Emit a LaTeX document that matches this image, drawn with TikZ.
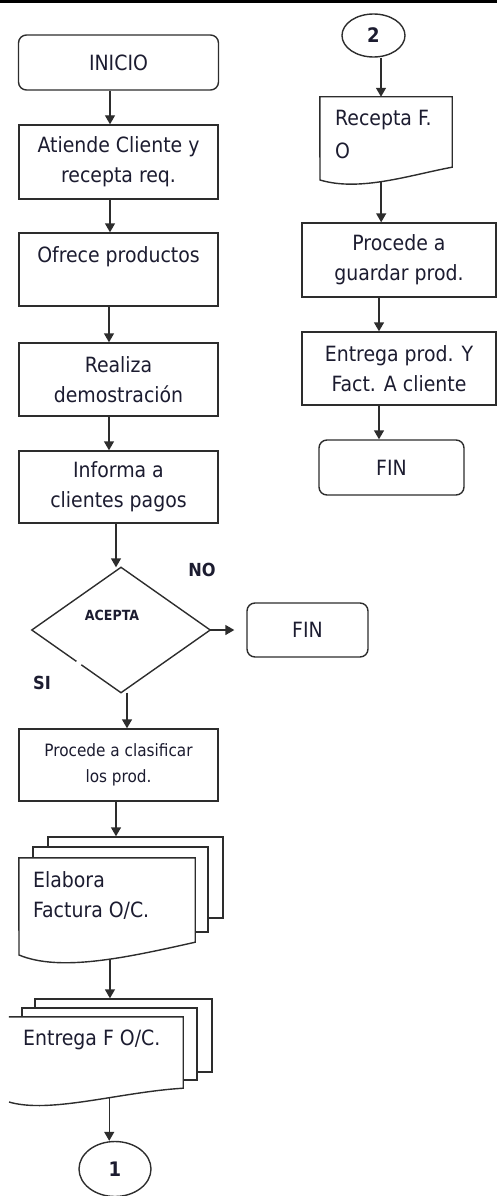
\documentclass[tikz,border=0pt]{standalone}
\usepackage{fontspec}
\setmainfont{DejaVu Sans Condensed}
\usetikzlibrary{arrows.meta,shapes.geometric,calc}

\definecolor{ink}{RGB}{28,28,48}
\definecolor{edge}{RGB}{45,45,45}

\tikzset{
  base/.style={inner sep=0pt, text=ink, font=\fontsize{21}{30}\selectfont},
  procbox/.style={base, draw=edge, line width=1.4pt, fill=white, align=center},
  termbox/.style={procbox, rounded corners=8pt},
  hidden/.style={base, draw=none},
  sheet/.style={draw=edge, line width=1.4pt, fill=white, inner sep=0pt},
  conn/.style={base, ellipse, draw=edge, line width=1.4pt, font=\fontsize{20}{24}\selectfont\bfseries},
  outline/.style={draw=edge, line width=1.4pt, fill=white},
  arr/.style={draw=edge, line width=1.4pt, -{Triangle[length=9pt,width=10pt]}},
  answer/.style={base, font=\fontsize{18}{20}\selectfont\bfseries},
  doclabel/.style={base, anchor=base west}
}

\begin{document}
\begin{tikzpicture}[x=1pt, y=-1pt]
\useasboundingbox (0,0) rectangle (497,1196);

% heading rule
\draw[line width=3pt, black] (0,1.5) -- (497,1.5);

% ---------- left column ----------
\node[termbox, minimum width=200pt, minimum height=55pt] (inicio) at (118.5,62.5) {INICIO};
\node[procbox, minimum width=199pt, minimum height=74pt] (atiende) at (118.5,162) {Atiende Cliente y\\recepta req.};
\node[procbox, minimum width=199pt, minimum height=73pt] (ofrece) at (118.5,269.5) {Ofrece productos\\\mbox{}};
\node[procbox, minimum width=199pt, minimum height=73pt] (realiza) at (118.5,379.5) {Realiza\\demostración};
\node[procbox, minimum width=199pt, minimum height=72pt] (informa) at (118.5,487) {Informa a\\clientes pagos};

% decision
\node[hidden, minimum width=178pt, minimum height=125pt] (acepta) at (121,630) {};
\draw[edge, line width=1.4pt, line join=miter]
  ($(acepta.west)!0.5!(acepta.south)$) -- (acepta.west) -- (acepta.north)
  -- (acepta.east) -- (acepta.south) -- ($(acepta.west)!0.555!(acepta.south)$);
\node[base, font=\fontsize{14}{16}\selectfont\bfseries] (aceptatxt) at (112,615) {ACEPTA};
\node[answer] (no) at (202,570) {NO};
\node[answer] (si) at (42,683) {SI};

\node[termbox, minimum width=121pt, minimum height=54pt] (fin1) at (307.5,630) {FIN};

\node[procbox, minimum width=199pt, minimum height=72pt,
      font=\fontsize{17}{26}\selectfont] (clasificar) at (118.5,765) {Procede a clasificar\\los prod.};

% multi-document: Elabora Factura
\node[sheet, minimum width=175pt, minimum height=81pt] (elaboraB) at (135.5,877.5) {};
\node[sheet, minimum width=175pt, minimum height=85pt] (elaboraM) at (120.5,889.5) {};
\node[hidden, minimum width=176pt, minimum height=84pt] (elabora) at (107,900) {};
\path[outline] (elabora.north west) -- (elabora.north east) -- (elabora.south east)
  .. controls (125,958) and (60,972) .. (19,955) coordinate[pos=0.425] (elaborw) -- cycle;
\node[doclabel] (elaboratxt) at (33,887) {Elabora};
\node[doclabel] (elaboratxt2) at (33,917) {Factura O/C.};

% multi-document: Entrega F O/C.
\node[sheet, minimum width=177pt, minimum height=73pt] (entregaB) at (123.5,1035.5) {};
\node[sheet, minimum width=175pt, minimum height=72pt] (entregaM) at (109.5,1044) {};
\node[hidden, minimum width=174pt, minimum height=71pt] (entrega) at (96,1052.5) {};
\fill[white] (entrega.north west) -- (entrega.north east) -- (entrega.south east)
  .. controls (120,1092) and (50,1114) .. (9,1102) -- cycle;
\draw[edge, line width=1.4pt] (entrega.north west) -- (entrega.north east) -- (entrega.south east)
  .. controls (120,1092) and (50,1114) .. (9,1102) coordinate[pos=0.385] (entregaw);
\node[doclabel] (entregatxt) at (23,1045) {Entrega F O/C.};

\node[conn, minimum width=72pt, minimum height=55pt] (c1) at (115,1169) {1};

% ---------- right column ----------
\node[conn, minimum width=63pt, minimum height=43pt] (c2) at (373.5,35.5) {2};

\node[hidden, minimum width=132pt, minimum height=70pt] (recepta) at (386,132) {};
\path[outline] (recepta.north west) -- (recepta.north east) -- (recepta.south east)
  .. controls (410,175) and (360,192) .. (320,180) coordinate[pos=0.53] (receptaw) -- cycle;
\node[doclabel] (receptatxt) at (335,125) {Recepta F.};
\node[doclabel] (receptatxt2) at (335,158) {O};

\node[procbox, minimum width=194pt, minimum height=74pt] (guardar) at (399,260) {Procede a\\guardar prod.};
\node[procbox, minimum width=194pt, minimum height=73pt] (entregaprod) at (399,368.5) {Entrega prod. Y\\Fact. A cliente};
\node[termbox, minimum width=145pt, minimum height=55pt] (fin2) at (391.5,467.5) {FIN};

% ---------- connectors ----------
\draw[arr] ([xshift=-8.5pt]inicio.south) -- ([xshift=-8.5pt]atiende.north);
\draw[arr] ([xshift=-8.5pt]atiende.south) -- ([xshift=-8.5pt]ofrece.north);
\draw[arr] ([xshift=-9.5pt]ofrece.south) -- ([xshift=-9.5pt]realiza.north);
\draw[arr] ([xshift=-9.5pt]realiza.south) -- ([xshift=-9.5pt]informa.north);
\draw[arr] ([xshift=-2.5pt]informa.south) -- ([xshift=-2.5pt]informa.south |- acepta.north);
\draw[arr] (acepta.east) -- ([xshift=-12pt]fin1.west);
\draw[arr] ([xshift=6pt]acepta.south) -- ([xshift=6pt]acepta.south |- clasificar.north);
\draw[arr] ([xshift=-2.5pt]clasificar.south) -- ([xshift=-2.5pt]clasificar.south |- elaboraB.north);
\draw[arr] (elaborw) -- (elaborw |- entregaB.north);
\draw[arr] (entregaw) -- (entregaw |- c1.north);

\draw[arr] ([xshift=7.5pt]c2.south) -- ([xshift=7.5pt]c2.south |- recepta.north);
\draw[arr] (receptaw) -- (receptaw |- guardar.north);
\draw[arr] ([xshift=-20pt]guardar.south) -- ([xshift=-20pt]entregaprod.north);
\draw[arr] ([xshift=-20pt]entregaprod.south) -- ([xshift=-20pt]entregaprod.south |- fin2.north);
\end{tikzpicture}
\end{document}
